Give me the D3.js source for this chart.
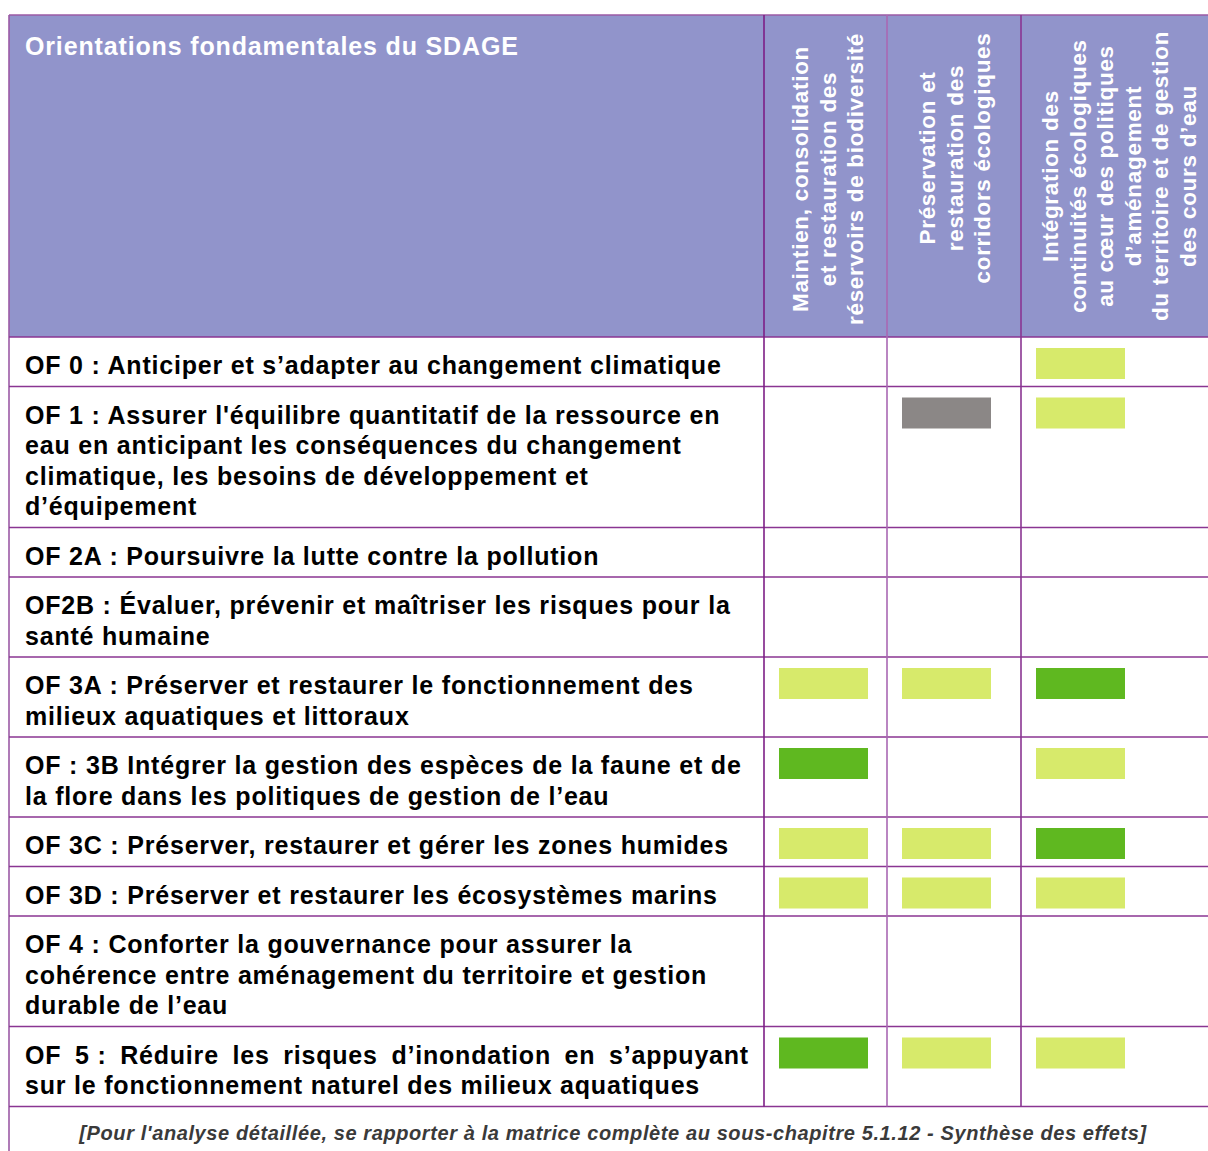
<!DOCTYPE html>
<html><head><meta charset="utf-8">
<script src="https://cdn.jsdelivr.net/npm/d3@7/dist/d3.min.js"></script>
<style>
html,body{margin:0;padding:0;background:#fff;overflow:hidden}
svg{display:block}
text{font-family:"Liberation Sans",Arial,sans-serif;font-weight:bold}
</style></head>
<body>
<script>
// ---- DATA ----
const title = "Orientations fondamentales du SDAGE";
const columns = ["c1","c2","c3"];
const columnHeaders = [
  ["Maintien, consolidation","et restauration des","réservoirs de biodiversité"],
  ["Préservation et","restauration des","corridors écologiques"],
  ["Intégration des","continuités écologiques","au cœur des politiques","d’aménagement","du territoire et de gestion","des cours d’eau"]
];
const categories = ["OF 0","OF 1","OF 2A","OF2B","OF 3A","OF 3B","OF 3C","OF 3D","OF 4","OF 5"];
const categoryLabels = [
  ["OF 0 : Anticiper et s’adapter au changement climatique"],
  ["OF 1 : Assurer l'équilibre quantitatif de la ressource en","eau en anticipant les conséquences du changement","climatique, les besoins de développement et","d’équipement"],
  ["OF 2A : Poursuivre la lutte contre la pollution"],
  ["OF2B : Évaluer, prévenir et maîtriser les risques pour la","santé humaine"],
  ["OF 3A : Préserver et restaurer le fonctionnement des","milieux aquatiques et littoraux"],
  ["OF : 3B Intégrer la gestion des espèces de la faune et de","la flore dans les politiques de gestion de l’eau"],
  ["OF 3C : Préserver, restaurer et gérer les zones humides"],
  ["OF 3D : Préserver et restaurer les écosystèmes marins"],
  ["OF 4 : Conforter la gouvernance pour assurer la","cohérence entre aménagement du territoire et gestion","durable de l’eau"],
  ["OF 5\u00a0: Réduire les risques d’inondation en s’appuyant","sur le fonctionnement naturel des milieux aquatiques"]
];
const justifiedRows = ["OF 5"];
// effect level per column: "" none, "L" light green, "D" dark green, "G" grey
const column1Values = ["","","","","L","D","L","L","","D"];
const column2Values = ["","G","","","L","","L","L","","L"];
const column3Values = ["L","L","","","D","L","D","L","","L"];
const footnote = "[Pour l'analyse détaillée, se rapporter à la matrice complète au sous-chapitre 5.1.12 - Synthèse des effets]";

// ---- LAYOUT ----
const W = 1208, H = 1151;
const leftX = 9, topY = 15, headerBottom = 337, rightEdge = 1240;
const lineH = 30.5, rowPad = 19;
const lineColor = "#8a3592";
const headerFill = "#9194cb";
const rowFont = 25, rowSpacing = 0.8;

const svg = d3.select("body").append("svg").attr("width", W).attr("height", H);

// column scale
const colX = d3.scaleOrdinal().domain(columns).range([764, 887, 1021]);
const colStroke = d3.scaleOrdinal().domain(columns).range(["#7d1f86", "#a968b3", "#8a3592"]);

// row scale: cumulative heights from line counts
const rowTops = [];
let acc = headerBottom;
categoryLabels.forEach(l => { rowTops.push(acc); acc += rowPad + lineH * l.length; });
const tableBottom = acc;
const rowY = d3.scaleOrdinal().domain(categories).range(rowTops);
const rowH = d3.scaleOrdinal().domain(categories).range(categoryLabels.map(l => rowPad + lineH * l.length));

const colorScale = d3.scaleOrdinal().domain(["L","D","G"]).range(["#d7ea6b","#5fb820","#8b8786"]);

// header background
svg.append("rect").attr("x", leftX).attr("y", topY).attr("width", rightEdge - leftX).attr("height", headerBottom - topY).attr("fill", headerFill);

// title
svg.append("text").attr("x", 25).attr("y", 54.5).attr("fill", "#fff").attr("font-size", 25)
  .attr("letter-spacing", 0.85).text(title);

// rotated column headers
const headerCenterY = [179, 158, 176];
const headerFirstBaseline = [808, 935, 1058];
const headerLineStep = 27.6;
columns.forEach((c, i) => {
  columnHeaders[i].forEach((line, j) => {
    const bx = headerFirstBaseline[i] + j * headerLineStep;
    const cy = headerCenterY[i];
    svg.append("text")
      .attr("transform", `translate(${bx},${cy}) rotate(-90)`)
      .attr("text-anchor", "middle")
      .attr("fill", "#fff")
      .attr("font-size", 22.5)
      .attr("letter-spacing", 0.7)
      .text(line);
  });
});

// cells
const valuesByCol = [column1Values, column2Values, column3Values];
columns.forEach((c, i) => {
  svg.append("g").selectAll("rect")
    .data(valuesByCol[i].map((v, k) => ({v, cat: categories[k]})).filter(d => d.v))
    .join("rect")
    .attr("x", colX(c) + 15)
    .attr("y", d => rowY(d.cat) + 11)
    .attr("width", 89)
    .attr("height", 31)
    .attr("fill", d => colorScale(d.v));
});

// row labels
const textRight = 749;
categories.forEach((cat, k) => {
  const lines = categoryLabels[k];
  lines.forEach((line, j) => {
    const y = rowY(cat) + 37 + j * lineH;
    const justify = justifiedRows.includes(cat) && j < lines.length - 1;
    if (!justify) {
      svg.append("text").attr("x", 25).attr("y", y).attr("font-size", rowFont)
        .attr("letter-spacing", rowSpacing).attr("fill", "#000").text(line);
    } else {
      const words = line.split(" ");
      const g = svg.append("g");
      const nodes = words.map(w => g.append("text").attr("y", y).attr("font-size", rowFont)
        .attr("letter-spacing", rowSpacing).attr("fill", "#000").text(w));
      const widths = nodes.map(n => n.node().getComputedTextLength());
      const total = d3.sum(widths);
      const gap = (textRight - 25 - total) / (words.length - 1);
      let x = 25;
      nodes.forEach((n, m) => { n.attr("x", x); x += widths[m] + gap; });
    }
  });
});

// grid lines
const grid = svg.append("g").attr("stroke", lineColor).attr("stroke-width", 1.6).attr("fill", "none");
grid.append("line").attr("x1", leftX).attr("x2", rightEdge).attr("y1", topY).attr("y2", topY).attr("stroke", "#9b5aa5");
grid.append("line").attr("x1", leftX).attr("x2", leftX).attr("y1", topY).attr("y2", H + 5).attr("stroke", "#9b5aa5");
const hLines = [headerBottom].concat(categories.map(c => rowY(c) + rowH(c)));
grid.selectAll("line.h").data(hLines).join("line").attr("class", "h")
  .attr("x1", leftX).attr("x2", rightEdge).attr("y1", d => d).attr("y2", d => d);
grid.selectAll("line.v").data(columns).join("line").attr("class", "v")
  .attr("stroke", d => colStroke(d))
  .attr("x1", d => colX(d)).attr("x2", d => colX(d)).attr("y1", topY).attr("y2", tableBottom);

// footnote
svg.append("text").attr("x", 613).attr("y", 1140).attr("text-anchor", "middle")
  .attr("font-size", 20).attr("letter-spacing", 0.6).attr("font-style", "italic").attr("fill", "#3a3a3a").text(footnote);
</script>
</body></html>
